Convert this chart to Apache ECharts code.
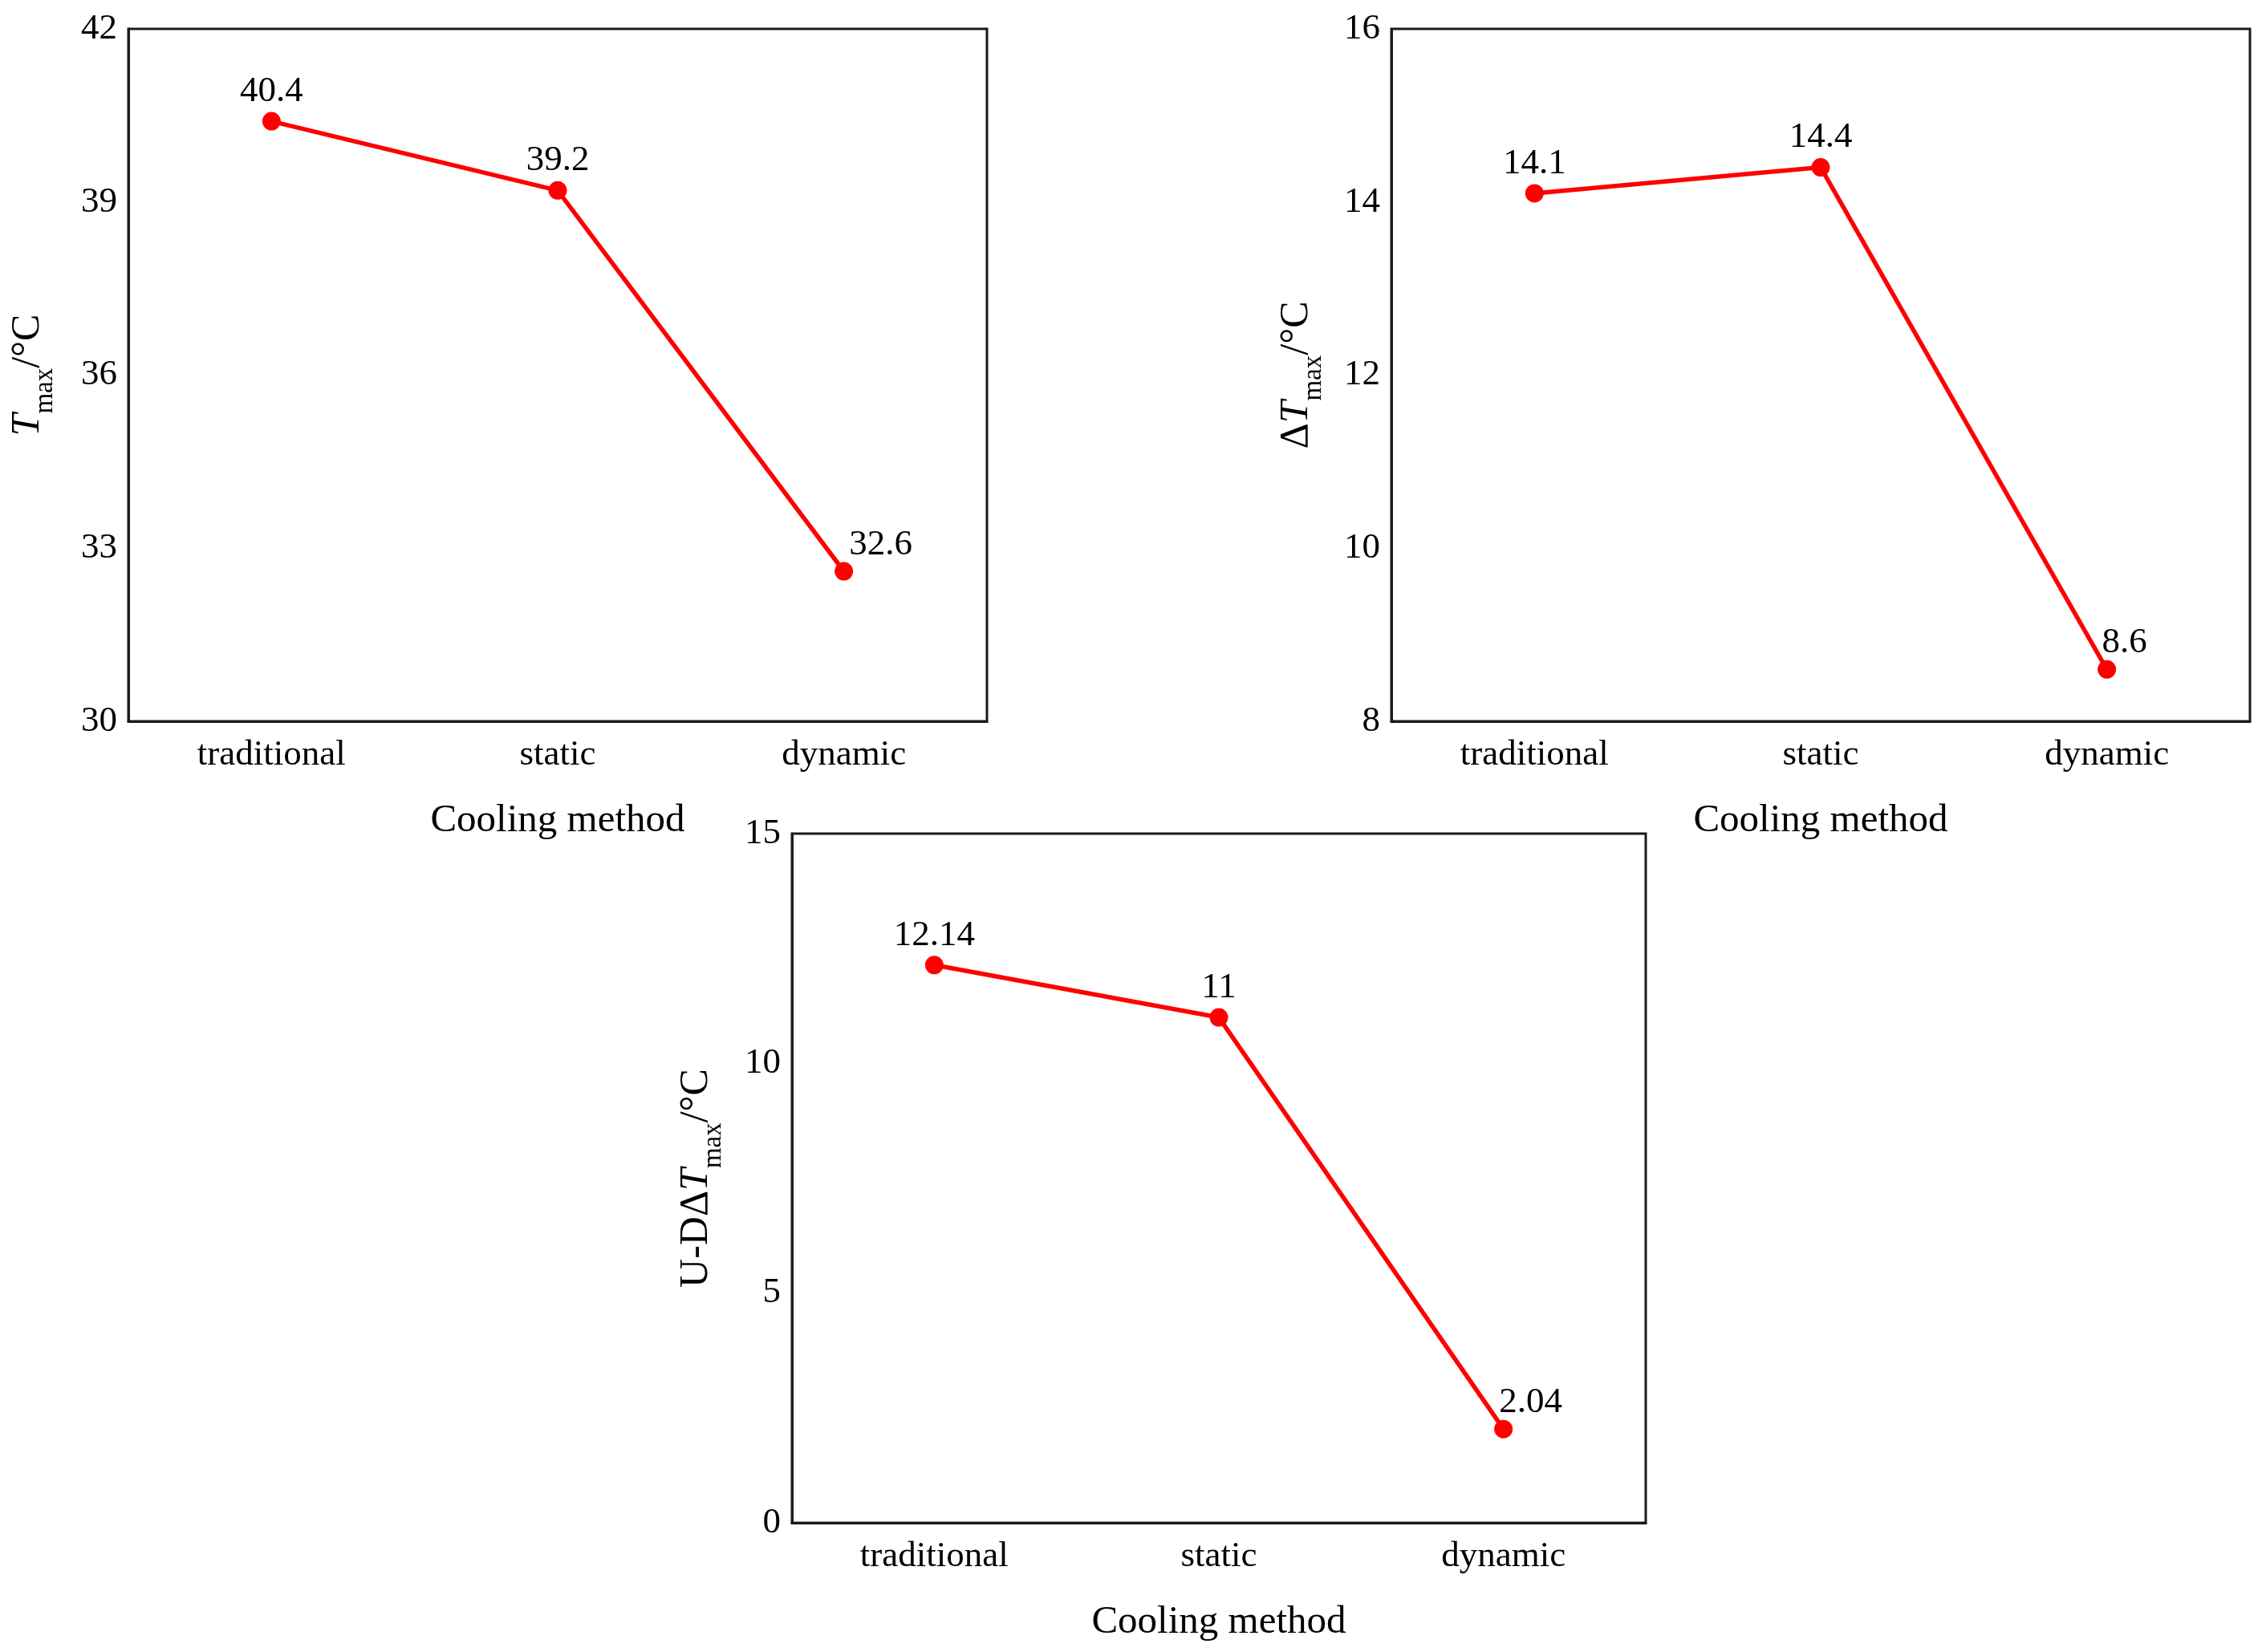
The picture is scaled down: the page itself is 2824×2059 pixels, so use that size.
<!DOCTYPE html>
<html>
<head>
<meta charset="utf-8">
<script src="https://cdn.jsdelivr.net/npm/echarts@6/dist/echarts.min.js"></script>
<style>
  html, body { margin: 0; padding: 0; background: #fff; }
  #main { width: 2824px; height: 2059px; }
</style>
</head>
<body>
<div id="main"></div>
<script>
// data
var methods = ['traditional', 'static', 'dynamic'];
var tMax = [40.4, 39.2, 32.6];
var dTMax = [14.1, 14.4, 8.6];
var udTMax = [12.14, 11, 2.04];
var tMaxLabels = ['40.4', '39.2', '32.6'];
var dTMaxLabels = ['14.1', '14.4', '8.6'];
var udTMaxLabels = ['12.14', '11', '2.04'];

var FONT = 'Liberation Serif';
var RED = '#ff0000';

var nameRich = {
    n: { fontFamily: FONT, fontSize: 50, color: '#000', lineHeight: 76, verticalAlign: 'middle' },
    it: { fontFamily: FONT, fontSize: 50, fontStyle: 'italic', color: '#000', lineHeight: 76, verticalAlign: 'middle' },
    sub: { fontFamily: FONT, fontSize: 33, color: '#000', lineHeight: 30, verticalAlign: 'bottom' }
};

// panel layout (pixels)
var panels = [
    { grid: { left: 160, top: 36, width: 1070, height: 863 },
      min: 30, max: 42, interval: 3, values: tMax, labels: tMaxLabels,
      name: '{it|T}{sub|max}{n|/°C}', nameGap: 87, lastShift: [46, 4] },
    { grid: { left: 1734, top: 36, width: 1070, height: 863 },
      min: 8, max: 16, interval: 2, values: dTMax, labels: dTMaxLabels,
      name: '{n|Δ}{it|T}{sub|max}{n|/°C}', nameGap: 80, lastShift: [22, 4] },
    { grid: { left: 987, top: 1039, width: 1064, height: 859 },
      min: 0, max: 15, interval: 5, values: udTMax, labels: udTMaxLabels,
      name: '{n|U-DΔ}{it|T}{sub|max}{n|/°C}', nameGap: 81, lastShift: [34, 4] }
];

var option = {
    backgroundColor: '#fff',
    animation: false,
    grid: [], xAxis: [], yAxis: [], series: []
};

panels.forEach(function (p, k) {
    option.grid.push(Object.assign({
        show: true, borderColor: '#1a1a1a', borderWidth: 3,
        backgroundColor: 'transparent', outerBoundsMode: 'none', containLabel: false
    }, p.grid));
    option.xAxis.push({
        type: 'category',
        gridIndex: k,
        data: methods,
        boundaryGap: true,
        name: 'Cooling method',
        nameLocation: 'middle',
        nameGap: 100,
        nameTextStyle: { fontFamily: FONT, fontSize: 49, color: '#000' },
        axisLine: { lineStyle: { color: '#1a1a1a', width: 3 } },
        axisTick: { inside: true, alignWithLabel: true, length: 16, lineStyle: { color: '#1a1a1a', width: 3 } },
        axisLabel: { fontFamily: FONT, fontSize: 45, color: '#000', margin: 20 },
        splitLine: { show: false }
    });
    option.yAxis.push({
        type: 'value',
        gridIndex: k,
        min: p.min, max: p.max, interval: p.interval,
        name: p.name,
        nameLocation: 'middle',
        nameRotate: 90,
        nameGap: p.nameGap,
        nameTextStyle: { rich: nameRich },
        axisLine: { show: true, lineStyle: { color: '#1a1a1a', width: 3 } },
        axisTick: { inside: true, length: 16, lineStyle: { color: '#1a1a1a', width: 3 } },
        axisLabel: { fontFamily: FONT, fontSize: 45, color: '#000', margin: 14 },
        splitLine: { show: false }
    });
    var pts = p.values.map(function (v, i) {
        var item = { value: v, label: { formatter: p.labels[i] } };
        if (i === p.values.length - 1) item.label.offset = p.lastShift;
        return item;
    });
    option.series.push({
        type: 'line',
        xAxisIndex: k,
        yAxisIndex: k,
        data: pts,
        symbol: 'circle',
        symbolSize: 23,
        lineStyle: { color: RED, width: 5.5 },
        itemStyle: { color: RED },
        label: {
            show: true,
            position: 'top',
            distance: 3,
            fontFamily: FONT,
            fontSize: 45,
            color: '#000'
        }
    });
});

var chart = echarts.init(document.getElementById('main'));
chart.setOption(option);
</script>
</body>
</html>
